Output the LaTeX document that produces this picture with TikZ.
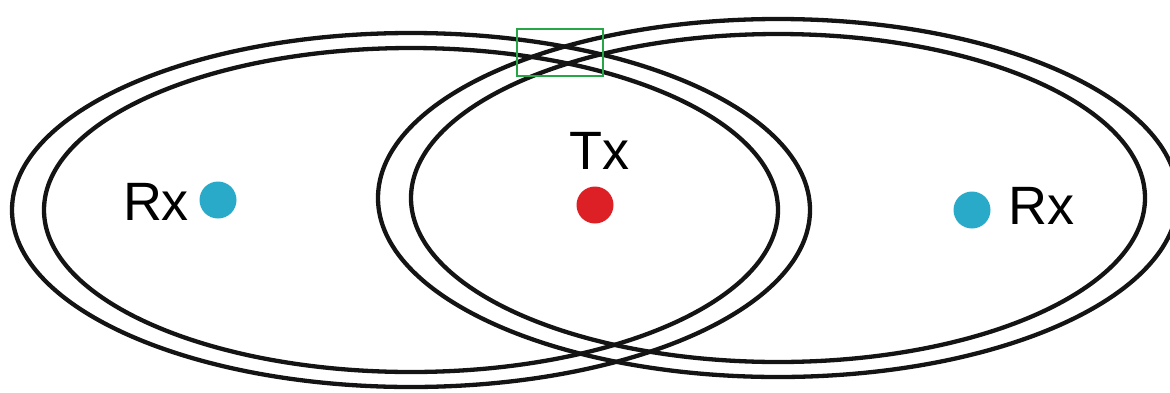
\documentclass[tikz,border=0pt]{standalone}
\usepackage{fontspec}
\setmainfont{Liberation Sans}
\definecolor{rxblue}{RGB}{40,170,200}
\definecolor{txred}{RGB}{220,32,38}
\definecolor{boxgreen}{RGB}{40,165,70}
\tikzset{
  ring/.style={draw=black!92, line width=4.3pt},
  dotnode/.style={circle, inner sep=0pt, minimum size=37pt},
  lbl/.style={inner sep=0pt, font=\fontsize{54}{60}\selectfont},
}
\begin{document}
\begin{tikzpicture}[x=1pt,y=-1pt]
\useasboundingbox (0,0) rectangle (1170,392);
\clip (0,0) rectangle (1170,392);
% left pair
\draw[ring] (411,210) ellipse [x radius=399, y radius=177];
\draw[ring] (411,210) ellipse [x radius=367, y radius=162];
% right pair
\draw[ring] (778,198) ellipse [x radius=400, y radius=179];
\draw[ring] (778,198) ellipse [x radius=367, y radius=164];
% highlight box
\draw[boxgreen, line width=1.8pt] (517,29) rectangle (603,76);
% dots
\node[dotnode, fill=rxblue] (rxl) at (218,200) {};
\node[dotnode, fill=txred] (tx) at (595,205) {};
\node[dotnode, fill=rxblue] (rxr) at (972,210) {};
% labels
\node[lbl] (rxltext) at (156,202) {Rx};
\node[lbl] (txtext) at (599,151) {Tx};
\node[lbl] (rxrtext) at (1041,206) {Rx};
\end{tikzpicture}
\end{document}
